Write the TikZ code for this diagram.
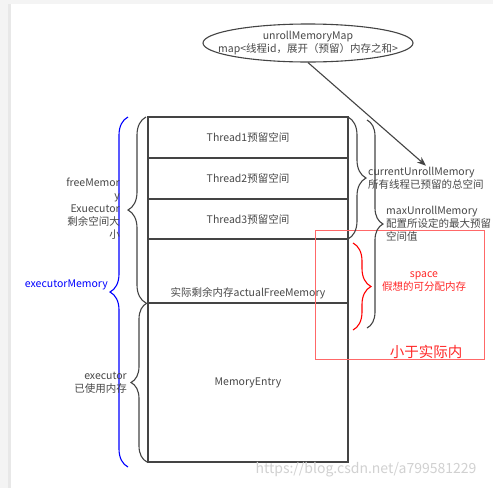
\documentclass[tikz,border=0pt]{standalone}
\usepackage{fontspec}
\setmainfont{Noto Sans CJK SC}
\definecolor{ink_gray}{RGB}{68, 68, 68}
\definecolor{text_gray}{RGB}{72, 72, 72}
\definecolor{band_gray}{RGB}{244, 244, 244}
\definecolor{strip_gray}{RGB}{232, 232, 232}
\definecolor{hint_red}{RGB}{255, 40, 40}
\usetikzlibrary{arrows.meta, positioning, shapes.geometric, decorations.pathreplacing}

\begin{document}
\begin{tikzpicture}[x=1pt, y=-1pt,
    font=\fontsize{10.5}{13}\selectfont, text=text_gray,
    cell/.style={draw=ink_gray, line width=1.2pt, minimum width=200pt,
                 outer sep=0pt, inner sep=0pt},
    brc/.style={draw=ink_gray, line width=1.1pt, decorate,
                decoration={brace, amplitude=#1}},
    brc/.default=18pt,
    lbl/.style={inner sep=1pt}]
  \useasboundingbox (0,0) rectangle (493,488);
  \fill[white] (0,0) rectangle (493,488);
  \fill[band_gray] (0,0) rectangle (493,4);
  \fill[band_gray] (0,0) rectangle (8,488);
  \fill[strip_gray] (8,4) rectangle (11,488);

  % memory stack
  \node[cell, minimum height=41pt] (t1) at (248,137.5) {Thread1预留空间};
  \node[cell, minimum height=41pt, below=0pt of t1] (t2) {Thread2预留空间};
  \node[cell, minimum height=40pt, below=0pt of t2] (t3) {Thread3预留空间};
  \node[cell, minimum height=64pt, below=0pt of t3] (free) {};
  \node[above=3pt of free.south, lbl] (freetxt) {实际剩余内存actualFreeMemory};
  \node[cell, minimum height=159pt, below=0pt of free] (entry) {MemoryEntry};

  % the map
  \node[ellipse, draw=ink_gray, line width=1.1pt, minimum width=210pt,
        minimum height=38pt, align=center, inner xsep=-18pt, inner ysep=0pt]
    (map) at (308,43)
    {unrollMemoryMap\\map<线程id，展开（预留）内存之和>};

  % red hint
  \node[draw=hint_red!70, line width=0.8pt, minimum width=169pt,
        minimum height=129pt] (redbox) at (399.5,294.5) {};
  \node[lbl, text=hint_red, align=center] (spacelbl) at (424,282)
    {space\\假想的可分配内存};
  \node[lbl, text=hint_red, font=\fontsize{14.5}{16}\selectfont] (lesslbl)
    at (426,352) {小于实际内};

  % left braces
  \draw[brc, draw=blue] ([xshift=-20pt,yshift=-5pt]entry.south west) -- ([xshift=-20pt]t1.north west);
  \draw[brc] ([xshift=-2pt]free.south west) -- ([xshift=-2pt]t1.north west);
  \draw[brc=16pt] ([xshift=-1pt]entry.south west) -- ([xshift=-1pt]entry.north west);
  \node[lbl, anchor=east, align=right] (freelbl) at (121,209)
    {freeMemor\\y\\Exuecutor\\剩余空间大\\小};
  \node[lbl, anchor=east, text=blue] (exelbl) at (109,285) {executorMemory};
  \node[lbl, anchor=east, align=right] (usedlbl) at (128,383)
    {executor\\已使用内存};

  % right braces
  \coordinate (maxtop) at (367,120);
  \coordinate (maxbot) at (367,328);
  \coordinate (redtop) at (353,243);
  \coordinate (redbot) at (353,330);
  \draw[brc] (t1.north east) -- (t3.south east);
  \draw[brc=16pt] (maxtop) -- (maxbot);
  \draw[brc, draw=red] (redtop) -- (redbot);
  \node[lbl, anchor=west, align=left] (curlbl) at (367,178)
    {currentUnrollMemory\\所有线程已预留的总空间};
  \node[lbl, anchor=west, align=left] (maxlbl) at (385,224)
    {maxUnrollMemory\\配置所设定的最大预留\\空间值};

  \draw[ink_gray, line width=1.1pt, -{Stealth[length=9pt, width=7pt]}]
    (map.south) -- (curlbl.north);

  \node[text=black!18, font=\fontsize{14}{16}\selectfont] (mark) at (366,470)
    {https://blog.csdn.net/a799581229};
\end{tikzpicture}
\end{document}
